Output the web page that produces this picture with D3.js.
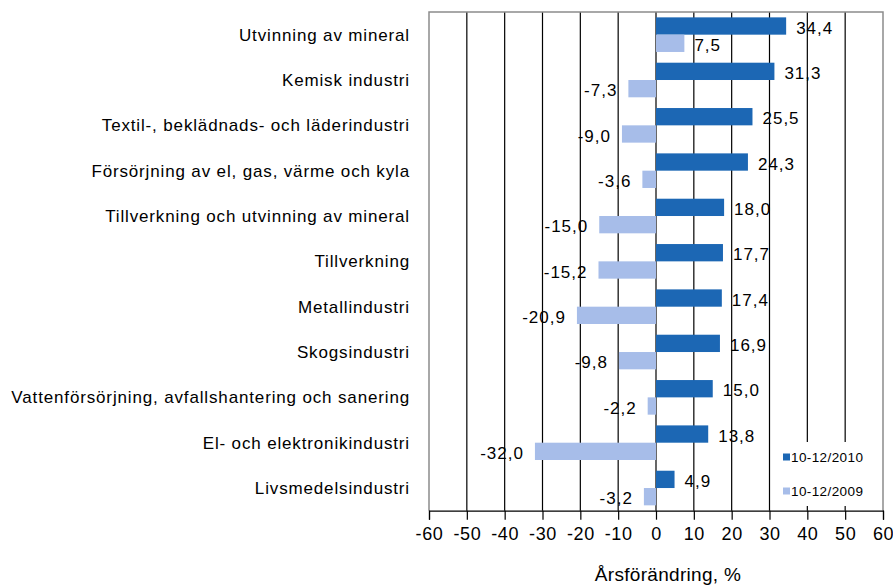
<!DOCTYPE html>
<html>
<head>
<meta charset="utf-8">
<script src="https://cdn.jsdelivr.net/npm/d3@7"></script>
<style>
  body { margin: 0; background: #fff; }
  svg { display: block; }
  text { font-family: "Liberation Sans", Arial, sans-serif; fill: #000; }
</style>
</head>
<body>
<svg id="chart" width="893" height="587"></svg>
<script>
const categories = [
  "Utvinning av mineral",
  "Kemisk industri",
  "Textil-, beklädnads- och läderindustri",
  "Försörjning av el, gas, värme och kyla",
  "Tillverkning och utvinning av mineral",
  "Tillverkning",
  "Metallindustri",
  "Skogsindustri",
  "Vattenförsörjning, avfallshantering och sanering",
  "El- och elektronikindustri",
  "Livsmedelsindustri"
];
const seriesNames = ["10-12/2010", "10-12/2009"];
const values2010 = [34.4, 31.3, 25.5, 24.3, 18.0, 17.7, 17.4, 16.9, 15.0, 13.8, 4.9];
const values2009 = [7.5, -7.3, -9.0, -3.6, -15.0, -15.2, -20.9, -9.8, -2.2, -32.0, -3.2];
const xTicks = [-60, -50, -40, -30, -20, -10, 0, 10, 20, 30, 40, 50, 60];
const colors = ["#1c67b4", "#a7bde9"];
const axisTitle = "Årsförändring, %";

(function () {
const svg = d3.select("#chart");
const pL = 429, pR = 883, pT = 12, pB = 510.7;

const x = d3.scaleLinear().domain([-60, 60]).range([pL, pR]);
const y = d3.scaleBand().domain(categories).range([pT, pB]).paddingInner(0).paddingOuter(0);
const ySub = d3.scaleBand().domain(seriesNames).range([0, y.bandwidth()]).paddingInner(0).paddingOuter(0.31);

const fmt = v => d3.format(".1f")(v).replace(".", ",").replace("−", "-");

// gridlines
svg.append("g").selectAll("line").data(xTicks.slice(1, -1)).join("line")
  .attr("x1", d => x(d)).attr("x2", d => x(d))
  .attr("y1", pT).attr("y2", pB)
  .attr("stroke", "#000").attr("stroke-width", 1.2);

// frame (gray) left, top, right
svg.append("path")
  .attr("d", `M${pL},${pB}V${pT}H${pR}V${pB}`)
  .attr("fill", "none").attr("stroke", "#8c8c8c").attr("stroke-width", 1.5);

// bottom axis
const xAxis = d3.axisBottom(x).tickValues(xTicks).tickSize(9).tickPadding(8).tickFormat(d => String(d));
const gx = svg.append("g").attr("transform", `translate(0,${pB})`).call(xAxis);
gx.select(".domain").attr("stroke", "#000").attr("stroke-width", 1.2);
gx.selectAll(".tick line").attr("stroke", "#000").attr("stroke-width", 1.2);
gx.selectAll(".tick text").attr("font-size", 18).attr("font-family", "Liberation Sans, Arial, sans-serif")
  .attr("letter-spacing", "0.6px").attr("fill", "#000");

// axis title
svg.append("text").attr("x", 668).attr("y", 581).attr("text-anchor", "middle")
  .attr("font-size", 19).attr("letter-spacing", "0.3px").text(axisTitle);

// category labels
svg.append("g").selectAll("text").data(categories).join("text")
  .attr("x", 410).attr("y", d => y(d) + y.bandwidth() / 2)
  .attr("dy", "0.36em")
  .attr("text-anchor", "end").attr("font-size", 17).attr("letter-spacing", "0.85px")
  .text(d => d);

// bars
const rows = categories.map((c, i) => ({ c, vals: [values2010[i], values2009[i]] }));
const rowG = svg.append("g").selectAll("g").data(rows).join("g")
  .attr("transform", d => `translate(0,${y(d.c)})`);

rowG.selectAll("rect").data(d => d.vals.map((v, j) => ({ v, s: seriesNames[j], j }))).join("rect")
  .attr("x", d => x(Math.min(0, d.v)))
  .attr("width", d => Math.abs(x(d.v) - x(0)))
  .attr("y", d => ySub(d.s))
  .attr("height", ySub.bandwidth())
  .attr("fill", d => colors[d.j]);

rowG.selectAll("text").data(d => d.vals.map((v, j) => ({ v, s: seriesNames[j], j }))).join("text")
  .attr("x", d => d.v >= 0 ? x(d.v) + 10 : x(d.v) - 11)
  .attr("y", d => ySub(d.s) + ySub.bandwidth() / 2 + 1.5)
  .attr("dy", "0.36em")
  .attr("text-anchor", d => d.v >= 0 ? "start" : "end")
  .attr("font-size", 17).attr("letter-spacing", "1px")
  .text(d => fmt(d.v));

// legend
const lg = svg.append("g");
lg.append("rect").attr("x", 776).attr("y", 442).attr("width", 100).attr("height", 64).attr("fill", "#fff");
seriesNames.forEach((s, j) => {
  const cy = 457 + j * 34;
  lg.append("rect").attr("x", 783).attr("y", cy - 3.5).attr("width", 7).attr("height", 7).attr("fill", colors[j]);
  lg.append("text").attr("x", 791).attr("y", cy).attr("dy", "0.36em")
    .attr("font-size", 13.5).attr("letter-spacing", "0.4px").text(s);
});
})();
</script>
</body>
</html>
